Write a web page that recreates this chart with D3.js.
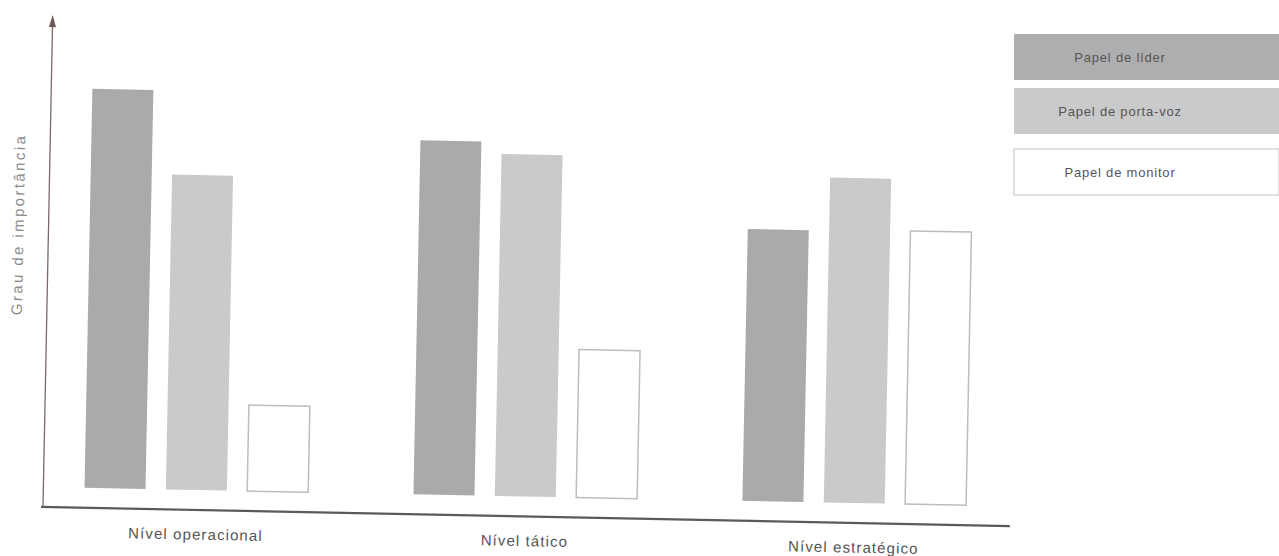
<!DOCTYPE html>
<html>
<head>
<meta charset="utf-8">
<script src="https://cdn.jsdelivr.net/npm/d3@7"></script>
<style>
  html, body { margin: 0; padding: 0; background: #fff; }
  svg { display: block; }
  text { font-family: "Liberation Sans", Arial, sans-serif; }
</style>
</head>
<body>
<svg id="chart" width="1279" height="556"></svg>
<script>
// Levels of management and the importance of each managerial role (relative scale 0–10)
const levels = ["Nível operacional", "Nível tático", "Nível estratégico"];
const roles = ["Papel de líder", "Papel de porta-voz", "Papel de monitor"];
const liderValues = [8.87, 7.87, 6.04];
const portaVozValues = [7.0, 7.6, 7.22];
const monitorValues = [1.91, 3.29, 6.07];
const yAxisTitle = "Grau de importância";

const seriesValues = [liderValues, portaVozValues, monitorValues];
const rows = levels.map((lvl, i) => ({
  level: lvl,
  values: roles.map((r, j) => ({ role: r, value: seriesValues[j][i] }))
}));

const fills = { "Papel de líder": "#a9aaac", "Papel de porta-voz": "#c9cacc", "Papel de monitor": "#ffffff" };
const strokes = { "Papel de líder": "none", "Papel de porta-voz": "none", "Papel de monitor": "#bdbdbd" };
const legendFills = { "Papel de líder": "#adaeb0", "Papel de porta-voz": "#c9cacc", "Papel de monitor": "#ffffff" };
const legendStrokes = { "Papel de líder": "none", "Papel de porta-voz": "none", "Papel de monitor": "#d6d6d6" };

const svg = d3.select("#chart");

// plot area: origin at the axes corner, drawn with a slight tilt
const corner = [43, 507];
const tilt = 1.13;
const g = svg.append("g")
  .attr("transform", `translate(${corner[0]},${corner[1]}) rotate(${tilt})`);

const x0 = d3.scaleBand().domain(levels).range([0, 964]).paddingInner(0.32).paddingOuter(0.125);
const x1 = d3.scaleBand().domain(roles).range([0, x0.bandwidth()]).paddingInner(0.25);
const y = d3.scaleLinear().domain([0, 10]).range([-20, -470]);

// bars
const groups = g.selectAll("g.level").data(rows).join("g")
  .attr("class", "level")
  .attr("transform", d => `translate(${x0(d.level)},0)`);

groups.selectAll("rect").data(d => d.values).join("rect")
  .attr("x", d => x1(d.role))
  .attr("y", d => y(d.value))
  .attr("width", x1.bandwidth())
  .attr("height", d => y(0) - y(d.value))
  .attr("fill", d => fills[d.role])
  .attr("stroke", d => strokes[d.role])
  .attr("stroke-width", 1.5);

// x axis line with category labels
const xAxis = d3.axisBottom(x0).tickSize(0).tickPadding(19);
const xg = g.append("g").call(xAxis);
xg.select(".domain").attr("d", "M-2,0H967").attr("stroke", "#5a5a5a").attr("stroke-width", 2.2);
xg.selectAll(".tick text")
  .attr("font-size", 15)
  .attr("letter-spacing", "1.1px")
  .attr("fill", "#555");

// y axis with arrow head
g.append("line")
  .attr("x1", 0).attr("y1", 0)
  .attr("x2", 0).attr("y2", -484)
  .attr("stroke", "#7b6966")
  .attr("stroke-width", 1.3);
g.append("path")
  .attr("d", "M-3.5,-480 L0,-492 L3.5,-480 Z")
  .attr("fill", "#6d5a58");

g.append("text")
  .attr("transform", `translate(-25,-282) rotate(-90)`)
  .attr("text-anchor", "middle")
  .attr("font-size", 15)
  .attr("letter-spacing", "2.4px")
  .attr("fill", "#8a8a8a")
  .text(yAxisTitle);

// legend
const legendX = 1014, legendW = 265, legendH = 46;
const legendTop = [34, 88, 149];
const legend = svg.append("g");
const items = legend.selectAll("g").data(roles).join("g")
  .attr("transform", (d, i) => `translate(${legendX},${legendTop[i]})`);
items.append("rect")
  .attr("width", legendW)
  .attr("height", legendH)
  .attr("fill", d => legendFills[d])
  .attr("stroke", d => legendStrokes[d])
  .attr("stroke-width", 1.5);
items.append("text")
  .attr("x", 106)
  .attr("y", legendH / 2 + 5)
  .attr("text-anchor", "middle")
  .attr("font-size", 13)
  .attr("letter-spacing", "0.8px")
  .attr("fill", "#555")
  .text(d => d);
</script>
</body>
</html>
